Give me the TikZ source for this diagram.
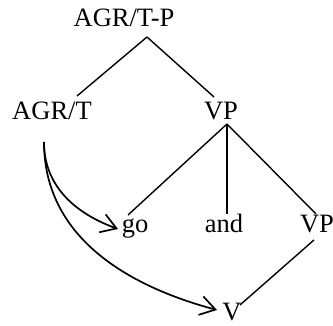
\documentclass[tikz,border=0pt]{standalone}
\usepackage{fontspec}
\setmainfont{Liberation Serif}
\usetikzlibrary{arrows.meta}
\begin{document}
\begin{tikzpicture}[x=1pt,y=-1pt,
  lbl/.style={inner sep=0pt,anchor=base,font=\fontsize{26.5}{32}\selectfont},
  edge/.style={line width=1.4pt},
  move/.style={line width=1.7pt,-{Straight Barb[length=15pt,width=19pt,line width=1.7pt]}}]
\useasboundingbox (0,0) rectangle (333,326);
% category labels
\node[lbl] (root) at (124,27) {AGR/T-P};
\node[lbl] (agr) at (52,120) {AGR/T};
\node[lbl] (vp) at (221,120) {VP};
\node[lbl] (go) at (135,233) {go};
\node[lbl] (and) at (224,233) {and};
\node[lbl] (vp2) at (317,233) {VP};
\node[lbl] (v) at (232,321) {V};
% edge attachment points
\coordinate (rootB) at (147,37);
\coordinate (agrT) at (77,96);
\coordinate (vpT) at (214,97);
\coordinate (vpB) at (227,124);
\coordinate (goT) at (128,215);
\coordinate (andT) at (227,214);
\coordinate (vpTwoT) at (316,214);
\coordinate (vpTwoB) at (314,240);
\coordinate (vT) at (240,305);
\coordinate (src) at (44,142);
\coordinate (goL) at (118,229);
\coordinate (vL) at (217,310);
% tree edges
\draw[edge] (rootB) -- (agrT);
\draw[edge] (rootB) -- (vpT);
\draw[edge] (vpB) -- (goT);
\draw[edge] (vpB) -- (andT);
\draw[edge] (vpB) -- (vpTwoT);
\draw[edge] (vpTwoB) -- (vT);
% head movement arrows
\draw[move] (src) to[out=-90,in=160] (goL);
\draw[move] (src) to[out=-90,in=165] (vL);
\end{tikzpicture}
\end{document}
